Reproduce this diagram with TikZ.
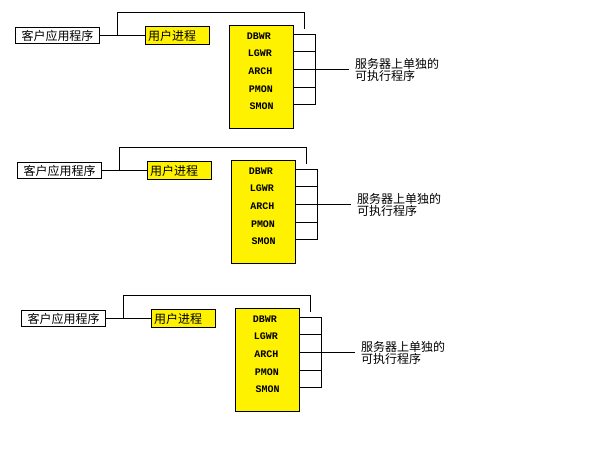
\documentclass[tikz,border=0pt]{standalone}
\usepackage{fontspec}
\newfontfamily\cjk{Noto Sans CJK SC}
\newfontfamily\monofnt{Liberation Mono}
\begin{document}
\begin{tikzpicture}[x=1pt,y=-1pt,line width=1pt,
  clientbox/.style={draw,fill=white,inner sep=0pt,minimum width=84pt,minimum height=16pt,font=\cjk\fontsize{12}{12}\selectfont},
  userbox/.style={draw,fill=yellow,inner ysep=0pt,inner xsep=2.5pt,text width=59pt,align=left,minimum height=18pt,font=\cjk\fontsize{12}{12}\selectfont},
  serverbox/.style={draw,fill=yellow,inner sep=0pt,minimum width=64pt,minimum height=103pt},
  proclabel/.style={inner sep=0pt,font=\monofnt\bfseries\fontsize{10}{10}\selectfont},
  exetext/.style={inner sep=0pt,align=left,anchor=west,font=\cjk\fontsize{12}{12.4}\selectfont}]
\useasboundingbox[fill=white] (0,0) rectangle (606,448);
% three identical client/server groups, shifted down the page
\foreach \dx/\dy [count=\n] in {0/0, 2/135, 6/283} {
  \begin{scope}[shift={(\dx,\dy)},name prefix=b\n-]
    \node[clientbox] (client) at (57.5,35.5) {客户应用程序};
    \node[userbox] (user) at (177.5,35.5) {用户进程};
    \node[serverbox] (srv) at (261.5,77) {};
    \draw (client) -- (user);
    \coordinate (j) at (117.5,35.5);
    \coordinate (top) at (304.5,28.5);
    \draw (j) |- ([yshift=16pt]top) -- (top);
    % background processes and their bracket
    \foreach \t/\y/\lx [count=\i] in {DBWR/34.5/259, LGWR/51.5/260, ARCH/69.5/260.5, PMON/87.5/261, SMON/104.5/261.7} {
      \node[proclabel] (p\i) at (\lx,\y+1.5) {\t};
      \coordinate (t\i) at (315.5,\y);
      \draw (srv.east |- t\i) -- (t\i);
    }
    \draw (t1) -- (t5);
    \draw (t3) -- ++(33,0) coordinate (tip);
    \node[exetext] (exe) at ([xshift=6pt,yshift=-0.5pt]tip) {服务器上单独的\\可执行程序};
  \end{scope}
}
\end{tikzpicture}
\end{document}
